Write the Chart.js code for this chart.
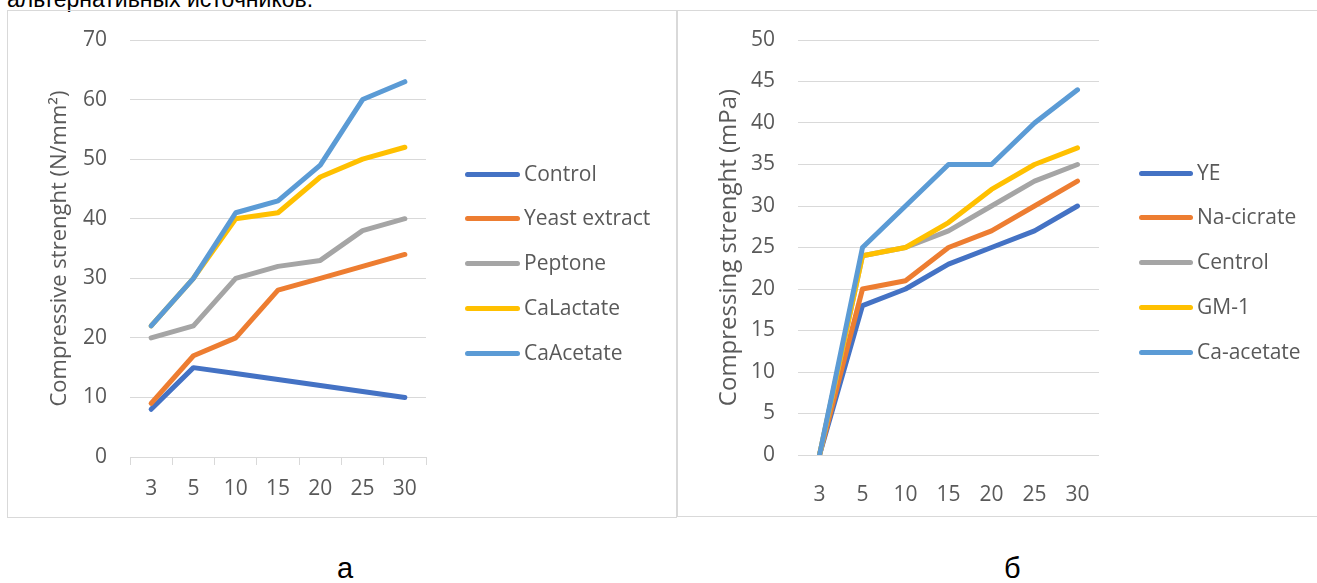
<!DOCTYPE html>
<html>
<head>
<meta charset="utf-8">
<script src="https://cdn.jsdelivr.net/npm/chart.js@4.4.0/dist/chart.umd.min.js"></script>
<style>
  body { margin: 0; width: 1317px; height: 583px; overflow: hidden; background: #fff; position: relative; font-family: "Open Sans", sans-serif; }
  .box { position: absolute; border: 1px solid #d9d9d9; box-sizing: border-box; }
  .cv { position: absolute; }
  .txt { position: absolute; font-family: "Liberation Sans", Arial, sans-serif; color: #000; line-height: 1; white-space: nowrap; }
  .leg-line { position: absolute; height: 5px; border-radius: 3px; }
  .leg-text { position: absolute; font-size: 21px; color: #595959; line-height: 21px; white-space: nowrap; }
</style>
</head>
<body>
<div class="txt" style="left:7px; top:-12px; font-size:23px;">альтернативных источников.</div>

<div class="box" style="left:7px; top:10px; width:670px; height:508px;"></div>
<div class="box" style="left:677px; top:10px; width:660px; height:507px;"></div>

<canvas id="chartA" class="cv" style="left:8px; top:11px;" width="668" height="506"></canvas>
<canvas id="chartB" class="cv" style="left:678px; top:11px;" width="639" height="505"></canvas>

<div id="legA"></div>
<div id="legB"></div>

<div class="txt" style="left:337px; top:554px; font-size:29px;">а</div>
<div class="txt" style="left:1004px; top:554px; font-size:29px;">б</div>

<script>
// chart a: compressive strength, N/mm2
const daysA = ['3', '5', '10', '15', '20', '25', '30'];
const control = [8, 15, 14, 13, 12, 11, 10];
const yeastExtract = [9, 17, 20, 28, 30, 32, 34];
const peptone = [20, 22, 30, 32, 33, 38, 40];
const caLactate = [22, 30, 40, 41, 47, 50, 52];
const caAcetate = [22, 30, 41, 43, 49, 60, 63];
const namesA = ['Control', 'Yeast extract', 'Peptone', 'CaLactate', 'CaAcetate'];

// chart b: compressing strength, mPa
const daysB = ['3', '5', '10', '15', '20', '25', '30'];
const ye = [0, 18, 20, 23, 25, 27, 30];
const naCitrate = [0, 20, 21, 25, 27, 30, 33];
const centrol = [0, 24, 25, 27, 30, 33, 35];
const gm1 = [0, 24, 25, 28, 32, 35, 37];
const caAcetateB = [0, 25, 30, 35, 35, 40, 44];
const namesB = ['YE', 'Na-cicrate', 'Centrol', 'GM-1', 'Ca-acetate'];

const colors = ['#4472C4', '#ED7D31', '#A5A5A5', '#FFC000', '#5B9BD5'];
const tickColor = '#595959';
const gridColor = '#d9d9d9';
const font = { family: '"Open Sans", sans-serif', size: 21 };

function makeSets(names, series) {
  // last series drawn on top, like the excel original
  return names.map((name, i) => ({
    label: name,
    data: series[i],
    borderColor: colors[i],
    backgroundColor: colors[i],
    borderWidth: 5,
    borderCapStyle: 'round',
    borderJoinStyle: 'round',
    pointRadius: 0,
    tension: 0,
    order: names.length - i
  }));
}

function htmlLegend(el, names, lineX, lineW, textX, firstY, step) {
  names.forEach((name, i) => {
    const y = firstY + i * step;
    const line = document.createElement('div');
    line.className = 'leg-line';
    line.style.cssText = `left:${lineX}px; top:${y - 2.5}px; width:${lineW}px; background:${colors[i]};`;
    const txt = document.createElement('div');
    txt.className = 'leg-text';
    txt.style.cssText = `left:${textX}px; top:${y - 11.5}px;`;
    txt.textContent = name;
    el.appendChild(line);
    el.appendChild(txt);
  });
}

// fixed axis width, and no extra room above/below for the tick labels
const fixY = w => s => { s.width = w; s.paddingTop = 0; s.paddingBottom = 0; };

// chart a
new Chart(document.getElementById('chartA'), {
  type: 'line',
  data: {
    labels: daysA,
    datasets: makeSets(namesA, [control, yeastExtract, peptone, caLactate, caAcetate])
  },
  options: {
    responsive: false,
    animation: false,
    layout: { padding: { top: 29, right: 250, bottom: 0, left: 0 } },
    plugins: { legend: { display: false }, tooltip: { enabled: false } },
    scales: {
      x: {
        offset: true,
        grid: { display: true, offset: true, drawOnChartArea: false, drawTicks: true, tickLength: 8, color: gridColor },
        border: { display: true, color: gridColor },
        ticks: { color: tickColor, font: font, padding: 11, maxRotation: 0, autoSkip: false },
        afterFit: s => { s.height = 60; }
      },
      y: {
        min: 0, max: 70,
        ticks: { stepSize: 10, color: tickColor, font: font, padding: 23 },
        grid: { color: gridColor, drawTicks: false },
        border: { display: false },
        title: { display: true, text: 'Compressive strenght (N/mm²)', color: tickColor, font: { family: font.family, size: 22 }, padding: { top: 39, bottom: 0 } },
        afterFit: fixY(122)
      }
    }
  }
});

// chart b
new Chart(document.getElementById('chartB'), {
  type: 'line',
  data: {
    labels: daysB,
    datasets: makeSets(namesB, [ye, naCitrate, centrol, gm1, caAcetateB])
  },
  options: {
    responsive: false,
    animation: false,
    layout: { padding: { top: 29, right: 218, bottom: 0, left: 0 } },
    plugins: { legend: { display: false }, tooltip: { enabled: false } },
    scales: {
      x: {
        offset: true,
        grid: { display: false },
        border: { display: false },
        ticks: { color: tickColor, font: font, padding: 19, maxRotation: 0, autoSkip: false },
        afterFit: s => { s.height = 61; }
      },
      y: {
        min: 0, max: 50,
        ticks: { stepSize: 5, color: tickColor, font: font, padding: 23 },
        grid: { color: gridColor, drawTicks: false },
        border: { display: false },
        title: { display: true, text: 'Compressing strenght (mPa)', color: tickColor, font: { family: font.family, size: 24 }, padding: { top: 37, bottom: 0 } },
        afterFit: fixY(120)
      }
    }
  }
});

htmlLegend(document.getElementById('legA'), namesA, 465, 55, 524, 174, 44.75);
htmlLegend(document.getElementById('legB'), namesB, 1139, 54, 1197, 173, 44.75);
</script>
</body>
</html>
